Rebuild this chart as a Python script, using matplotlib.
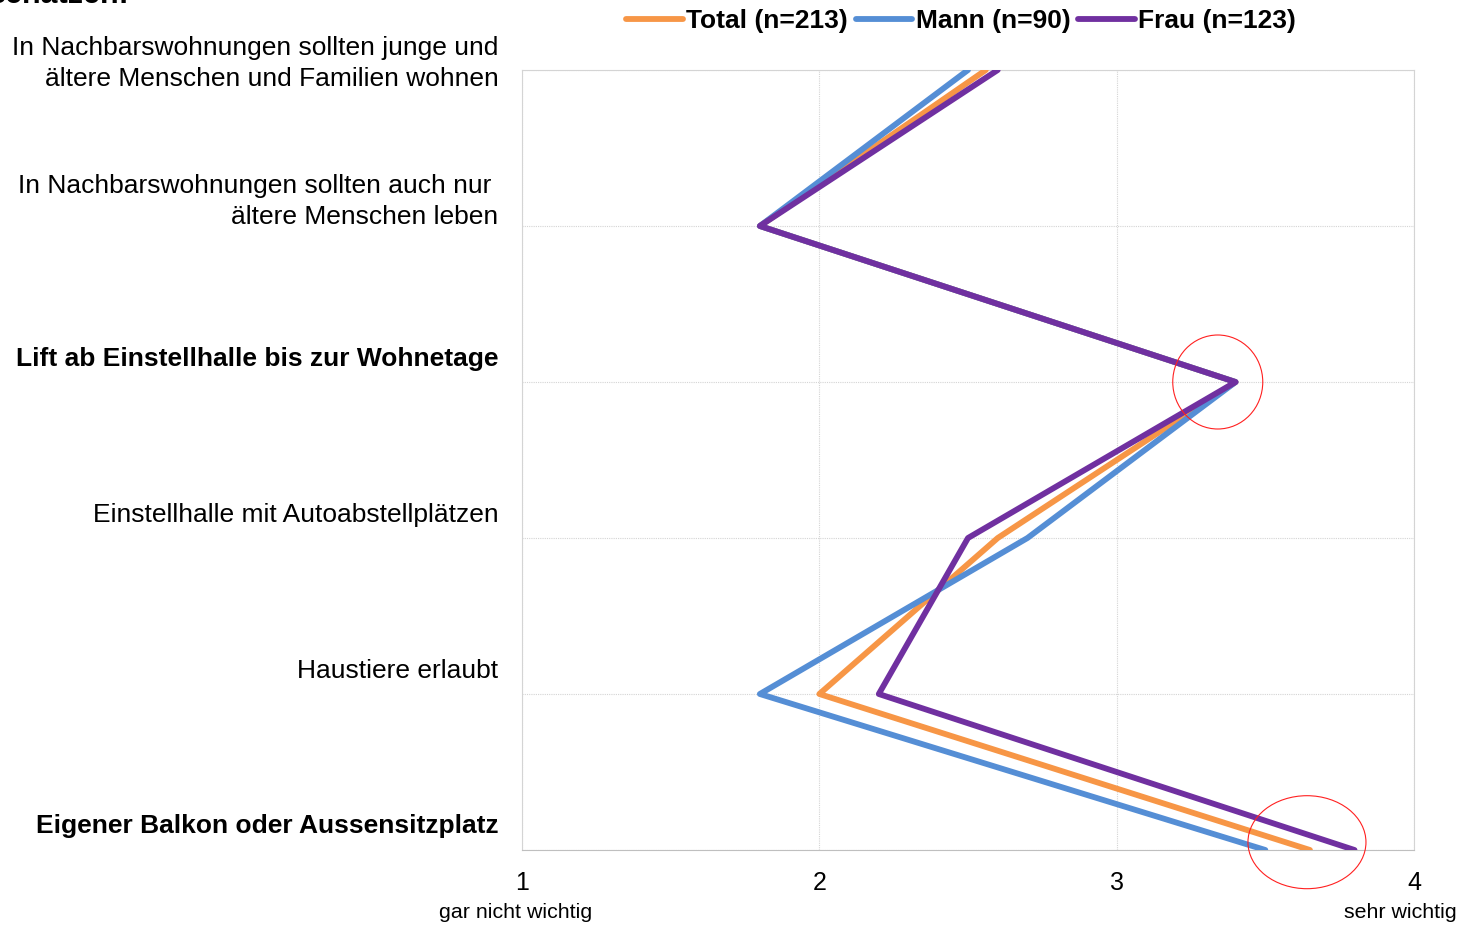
import matplotlib.pyplot as plt
from matplotlib.patches import Ellipse

# categories, top to bottom
labels = [
    "In Nachbarswohnungen sollten junge und\nältere Menschen und Familien wohnen",
    "In Nachbarswohnungen sollten auch nur \nältere Menschen leben",
    "Lift ab Einstellhalle bis zur Wohnetage",
    "Einstellhalle mit Autoabstellplätzen",
    "Haustiere erlaubt",
    "Eigener Balkon oder Aussensitzplatz",
]
bold = [False, False, True, False, False, True]
label_shift = [4.5, 17.5, 16.5, 16.5, 16.5, 17.5]  # points above gridline

total = [2.56, 1.80, 3.40, 2.60, 2.00, 3.65]
mann = [2.50, 1.80, 3.40, 2.70, 1.80, 3.50]
frau = [2.60, 1.80, 3.40, 2.50, 2.20, 3.80]

series = [("Total (n=213)", total, "#F79646"),
          ("Mann (n=90)", mann, "#558ED5"),
          ("Frau (n=123)", frau, "#7030A0")]

plt.rcParams['font.family'] = ['Liberation Sans', 'DejaVu Sans']

fig = plt.figure(figsize=(14.6, 9.25), dpi=100)
ax = fig.add_axes([522/1460, 1-850/925, (1414-522)/1460, (850-70)/925])

ypos = list(range(len(labels)))
for name, vals, col in series:
    ax.plot(vals, ypos, color=col, lw=4.2, solid_capstyle='round',
            solid_joinstyle='round', label=name, zorder=3, clip_on=True)

ax.set_xlim(1, 4)
ax.set_ylim(len(labels)-1, 0)
ax.set_xticks([1, 2, 3, 4])
ax.set_xticklabels(["1", "2", "3", "4"], fontsize=18)
ax.tick_params(axis='x', length=0, pad=15)
ax.set_yticks(ypos)
ax.set_yticklabels([])
ax.tick_params(axis='y', length=0)
ax.grid(True, color="#d4d4d4", ls=(0, (1, 1)), lw=0.8)
for s in ax.spines.values():
    s.set_color("#d4d4d4")
    s.set_linewidth(0.8)
ax.spines['bottom'].set_color("#bfbfbf")

for i, (lab, b) in enumerate(zip(labels, bold)):
    ax.annotate(lab, xy=(0, i), xycoords=('axes fraction', 'data'),
                xytext=(-17, label_shift[i]), textcoords='offset points',
                ha='right', va='center', multialignment='right',
                fontsize=19, fontweight='bold' if b else 'normal',
                linespacing=1.37)

# red circles
ax.add_patch(Ellipse((3.34, 2.0), 90/297.3, 94/156, fill=False,
                     ec="#ff2020", lw=0.8, zorder=4))
ax.add_patch(Ellipse((3.64, 4.95), 118/297.3, 93/156, fill=False,
                     ec="#ff2020", lw=0.8, zorder=4, clip_on=False))

fig.text(516/1460, 1-912/925, "gar nicht wichtig", ha='center', va='center', fontsize=15.4)
fig.text(1400/1460, 1-912/925, "sehr wichtig", ha='center', va='center', fontsize=15.4)
fig.text(130/1460, 1-3/925, "schätzen:", ha='right', va='baseline',
         fontsize=22, fontweight='bold')

fig.legend(loc='center', bbox_to_anchor=(961/1460, 1-21/925), ncol=3,
           frameon=False, handlelength=2.15, handletextpad=0.12, columnspacing=0.3,
           prop={'family': ['Liberation Sans Narrow', 'Liberation Sans'],
                 'weight': 'bold', 'size': 19})

fig.savefig("out.png", dpi=100)
